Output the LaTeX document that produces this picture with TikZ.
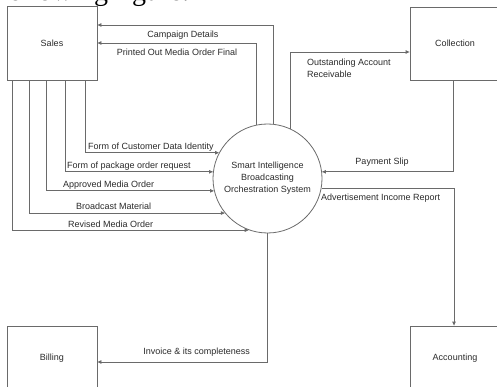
\documentclass[tikz,border=0pt]{standalone}
\usepackage{fontspec}
\setmainfont{Liberation Sans}
\newfontfamily\bodyserif{Liberation Serif}
\usetikzlibrary{arrows.meta}
\definecolor{linegray}{HTML}{6A6A6A}
\definecolor{inkgray}{HTML}{2A2A2A}
\begin{document}
\begin{tikzpicture}[x=1pt,y=-1pt,
  font=\fontsize{9}{12}\selectfont,
  entity/.style={draw=linegray, line width=0.8pt, minimum width=90pt, minimum height=74pt,
                 inner sep=0pt, text=inkgray},
  process/.style={draw=linegray, line width=0.8pt, circle, minimum size=109pt, inner sep=0pt,
                  align=center, text=inkgray},
  flow/.style={draw=linegray, line width=0.8pt,
               -{Triangle[length=4pt,width=3.5pt]}},
  lbl/.style={text=inkgray, inner sep=0pt}]
\useasboundingbox (0,0) rectangle (497,387);
\clip (0,0) rectangle (497,387);

% running text above the figure
\node[anchor=base west, inner sep=0pt, font=\bodyserif\fontsize{28}{30}\selectfont]
  (caption) at (-1,1) {following figure:};

% external entities and the central process
\node[entity] (sales) at (52,43) {Sales};
\node[entity, minimum height=73pt] (coll) at (455,43.5) {Collection};
\node[entity, minimum height=64pt] (bill) at (52,358) {Billing};
\node[entity, minimum height=64pt] (acct) at (455,358) {Accounting};
\node[process] (sys) at (267.5,178.5)
  {Smart Intelligence\\Broadcasting\\Orchestration System};

% process -> Sales
\draw[flow] (sys.84.2) |- ([yshift=18pt]sales.east);
\draw[flow] (sys.102.2) |- (sales.east);
\node[lbl] (l-camp) at (183,35) {Campaign Details};
\node[lbl] (l-print) at (177,52) {Printed Out Media Order Final};

% Sales -> process
\draw[flow] ([xshift=79pt]sales.south west) |- (sys.152.1);
\draw[flow] ([xshift=59pt]sales.south west) |- (sys.173.2);
\draw[flow] ([xshift=40pt]sales.south west) |- (sys.193.3);
\draw[flow] ([xshift=23pt]sales.south west) |- (sys.219.3);
\draw[flow] ([xshift=6pt]sales.south west) |- (sys.250.9);
\node[lbl, anchor=west] (l-ident) at (88,147) {Form of Customer Data Identity};
\node[lbl, anchor=west] (l-pack) at (67,166) {Form of package order request};
\node[lbl, anchor=west] (l-appr) at (63,185) {Approved Media Order};
\node[lbl, anchor=west] (l-bcast) at (76,206) {Broadcast Material};
\node[lbl, anchor=west] (l-rev) at (68,224) {Revised Media Order};

% process <-> Collection
\draw[flow] (sys.65.6) |- ([yshift=-8.5pt]coll.west);
\node[lbl, anchor=west, align=left] (l-out) at (307,68) {Outstanding Account\\Receivable};
\draw[flow] ([xshift=-2pt]coll.south) |- (sys.7.9);
\node[lbl] (l-pay) at (382,162) {Payment Slip};

% process -> Accounting
\draw[flow] (sys.-10) -| ([xshift=-1pt]acct.north);
\node[lbl, anchor=west] (l-adv) at (321,198) {Advertisement Income Report};

% process -> Billing
\draw[flow] (sys.south) |- ([yshift=-4pt]bill.east);
\node[lbl, anchor=east] (l-inv) at (250,352) {Invoice \& its completeness};
\end{tikzpicture}
\end{document}
